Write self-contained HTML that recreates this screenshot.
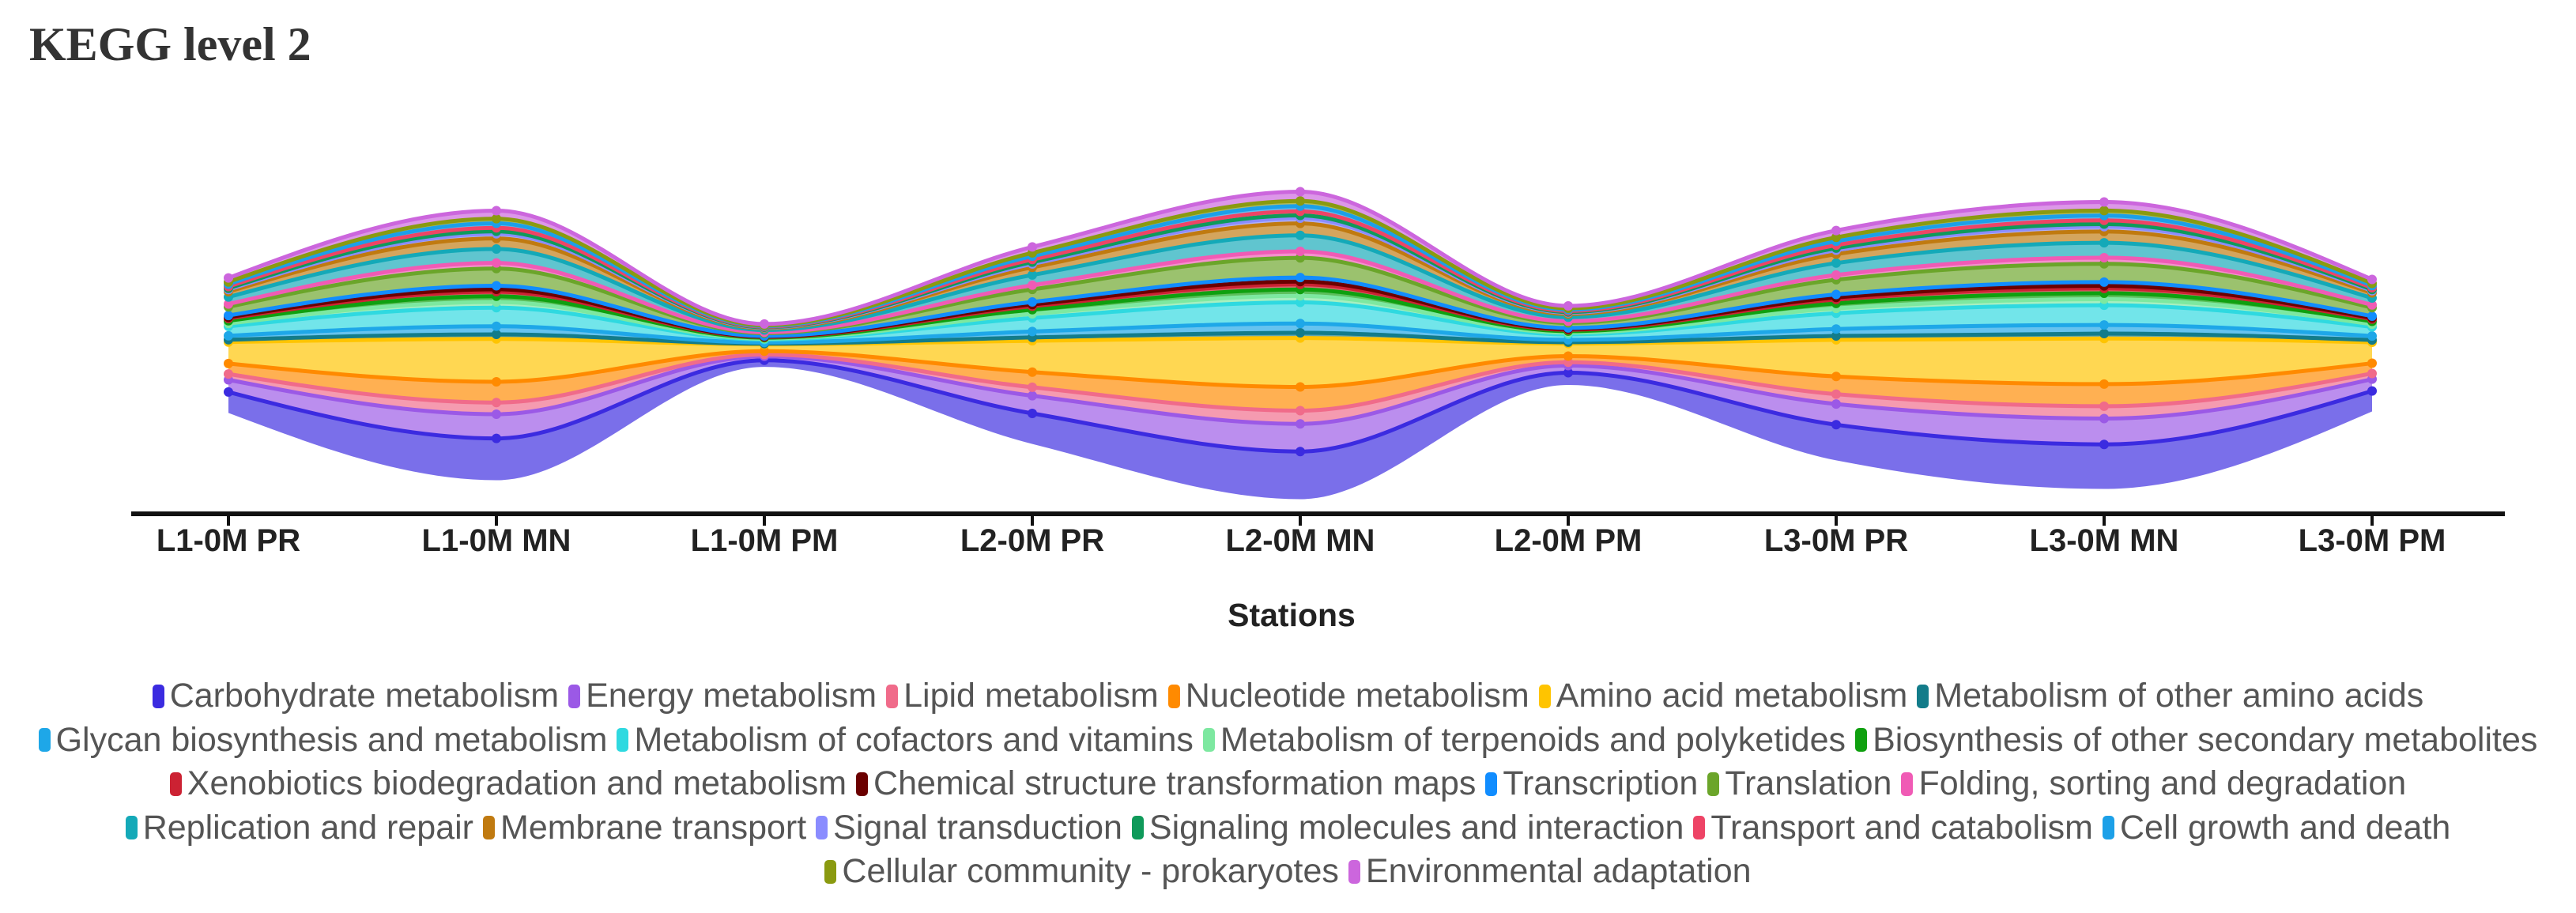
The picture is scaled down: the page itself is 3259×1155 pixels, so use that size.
<!DOCTYPE html>
<html><head><meta charset="utf-8">
<style>
html,body{margin:0;padding:0;background:#fff;}
body{width:3259px;height:1155px;overflow:hidden;position:relative;font-family:"Liberation Sans",sans-serif;}
#title{position:absolute;left:37px;top:22px;font-family:"Liberation Serif",serif;font-size:60px;color:#333;font-weight:bold;}
#legend{position:absolute;left:0;top:853px;width:3259px;}
.row{display:flex;justify-content:center;align-items:center;height:55.5px;}
.item{display:flex;align-items:center;margin:0 6px;font-size:43px;color:#555;white-space:nowrap;}
.sw{width:15px;height:30px;border-radius:5px;margin-right:7px;}
</style></head>
<body>
<div id="title">KEGG level 2</div>
<svg id="chart" width="3259" height="840" style="position:absolute;left:0;top:0"></svg>
<div id="legend"></div>
<script>
const stations = ["L1-0M PR","L1-0M MN","L1-0M PM","L2-0M PR","L2-0M MN","L2-0M PM","L3-0M PR","L3-0M MN","L3-0M PM"];
const seriesNames = ["Carbohydrate metabolism","Energy metabolism","Lipid metabolism","Nucleotide metabolism","Amino acid metabolism","Metabolism of other amino acids","Glycan biosynthesis and metabolism","Metabolism of cofactors and vitamins","Metabolism of terpenoids and polyketides","Biosynthesis of other secondary metabolites","Xenobiotics biodegradation and metabolism","Chemical structure transformation maps","Transcription","Translation","Folding, sorting and degradation","Replication and repair","Membrane transport","Signal transduction","Signaling molecules and interaction","Transport and catabolism","Cell growth and death","Cellular community - prokaryotes","Environmental adaptation"];
const seriesColors = ["#3b2be0","#9b59e6","#f06b8a","#ff8a00","#ffc400","#137c8a","#1ea7e8","#2fd9e0","#7de8a0","#0fa00f","#cc2233","#6b0000","#118dff","#6ba52a","#f05bb5","#14a9b8","#c07a10","#8a8cff","#0f9a5a","#ee4466","#1ca0e8","#8a9a10","#cc66dd"];
const vCarb   = [26.5,52.9,8.4,38.6,60.3,15.5,45.1,56.3,25.9];
const vEnergy = [15.4,30.7,4.9,22.4,35.0,9.0,26.2,32.7,15.0];
const vLipid  = [7.4,14.7,2.3,10.7,16.7,4.3,12.5,15.6,7.2];
const vNucl   = [13.2,26.3,4.2,19.2,30.0,7.7,22.4,28.0,12.9];
const vAmino  = [27.2,54.2,8.6,39.6,61.9,15.9,46.3,57.7,26.6];
const vOther  = [2.9,5.8,0.9,4.2,6.6,1.7,4.9,6.2,2.8];
const vGlycan = [5.1,10.2,1.6,7.5,11.7,3.0,8.7,10.9,5.0];
const vCofac  = [11.8,23.5,3.7,17.2,26.8,6.9,20.1,25.0,11.5];
const vTerp   = [3.6,7.2,1.1,5.2,8.2,2.1,6.1,7.6,3.5];
const vBiosyn = [3.5,7.3,1.2,5.3,8.1,2.0,6.2,7.5,3.6];
const vXeno   = [3.0,5.7,1.0,4.3,6.5,1.8,5.0,6.1,2.9];
const vChem   = [1.5,3.1,0.5,2.2,3.5,0.9,2.6,3.3,1.5];
const vTransc = [2.2,4.4,0.7,3.2,5.1,1.3,3.8,4.7,2.2];
const vTransl = [10.9,21.8,3.5,15.9,24.9,6.4,18.6,23.2,10.7];
const vFold   = [3.6,7.1,1.2,5.3,8.2,2.1,6.0,7.7,3.5];
const vRepl   = [8.9,17.7,2.8,12.9,20.2,5.2,15.1,18.9,8.7];
const vMemb   = [6.7,13.3,2.1,9.7,15.2,3.9,11.3,14.2,6.5];
const vSignal = [2.8,5.9,0.9,4.3,6.6,1.7,5.0,6.2,2.8];
const vSigmol = [1.5,3.1,0.5,2.3,3.5,0.9,2.6,3.2,1.5];
const vTransp = [2.2,4.4,0.7,3.3,5.1,1.3,3.8,4.7,2.2];
const vCell   = [2.9,5.8,0.9,4.2,6.6,1.7,4.9,6.2,2.8];
const vComm   = [2.9,5.8,0.9,4.2,6.6,1.7,4.9,6.2,2.8];
const vEnv    = [5.1,10.2,1.6,7.5,11.7,3.0,8.7,10.9,5.0];
const seriesValues = [vCarb,vEnergy,vLipid,vNucl,vAmino,vOther,vGlycan,vCofac,vTerp,vBiosyn,vXeno,vChem,vTransc,vTransl,vFold,vRepl,vMemb,vSignal,vSigmol,vTransp,vCell,vComm,vEnv];

const NS="http://www.w3.org/2000/svg";
const svg=document.getElementById('chart');
const xStart=289, xStep=339;
function xScale(i){return xStart+i*xStep;}
const yCenter=437, yUnit=1.0;
function yScale(v){return yCenter - v*yUnit;}

const n=stations.length;
const totals=stations.map((s,j)=>seriesValues.reduce((a,v)=>a+v[j],0));
const layers=[];
let base=totals.map(t=>-t/2);
seriesValues.forEach(vals=>{
  const lo=base.slice();
  const hi=base.map((b,j)=>b+vals[j]);
  layers.push({lo,hi});
  base=hi;
});

function tangents(xs,ys){
  const m=xs.length,t=new Array(m).fill(0);
  for(let i=1;i<m-1;i++){
    const h0=xs[i]-xs[i-1],h1=xs[i+1]-xs[i];
    const s0=(ys[i]-ys[i-1])/h0,s1=(ys[i+1]-ys[i])/h1;
    const p=(s0*h1+s1*h0)/(h0+h1);
    t[i]=(Math.sign(s0)+Math.sign(s1))*Math.min(Math.abs(s0),Math.abs(s1),0.5*Math.abs(p))||0;
  }
  const h=xs[1]-xs[0];
  t[0]=(3*(ys[1]-ys[0])/h - t[1])/2;
  const hl=xs[m-1]-xs[m-2];
  t[m-1]=(3*(ys[m-1]-ys[m-2])/hl - t[m-2])/2;
  return t;
}
function segs(xs,ys){
  const t=tangents(xs,ys),out=[];
  for(let i=0;i<xs.length-1;i++){
    const dx=(xs[i+1]-xs[i])/3;
    out.push([xs[i],ys[i],xs[i]+dx,ys[i]+dx*t[i],xs[i+1]-dx,ys[i+1]-dx*t[i+1],xs[i+1],ys[i+1]]);
  }
  return out;
}
function fwd(s){let d=`M${s[0][0]},${s[0][1]}`;s.forEach(g=>{d+=` C${g[2]},${g[3]} ${g[4]},${g[5]} ${g[6]},${g[7]}`;});return d;}
function back(s){let d='';for(let i=s.length-1;i>=0;i--){const g=s[i];d+=` C${g[4]},${g[5]} ${g[2]},${g[3]} ${g[0]},${g[1]}`;}return d;}

const xs=stations.map((s,i)=>xScale(i));
layers.forEach((L,k)=>{
  const top=segs(xs,L.hi.map(yScale));
  const bot=segs(xs,L.lo.map(yScale));
  const area=document.createElementNS(NS,'path');
  area.setAttribute('d',fwd(top)+` L${xs[n-1]},${yScale(L.lo[n-1])}`+back(bot)+' Z');
  area.setAttribute('fill',seriesColors[k]);
  area.setAttribute('fill-opacity','0.68');
  
  
  svg.appendChild(area);
});
layers.forEach((L,k)=>{
  const top=segs(xs,L.hi.map(yScale));
  const line=document.createElementNS(NS,'path');
  line.setAttribute('d',fwd(top));
  line.setAttribute('fill','none');
  line.setAttribute('stroke',seriesColors[k]);
  line.setAttribute('stroke-width','5');
  
  
  svg.appendChild(line);
  L.hi.forEach((v,j)=>{
    const c=document.createElementNS(NS,'circle');
    c.setAttribute('cx',xScale(j));c.setAttribute('cy',yScale(v));c.setAttribute('r','6');
    c.setAttribute('fill',seriesColors[k]);
    
    
    svg.appendChild(c);
  });
});
const ax=document.createElementNS(NS,'line');
ax.setAttribute('x1',166);ax.setAttribute('x2',3169);ax.setAttribute('y1',650);ax.setAttribute('y2',650);
ax.setAttribute('stroke','#111');ax.setAttribute('stroke-width','6');


svg.appendChild(ax);
stations.forEach((s,i)=>{
  const tk=document.createElementNS(NS,'line');
  tk.setAttribute('x1',xScale(i));tk.setAttribute('x2',xScale(i));tk.setAttribute('y1',650);tk.setAttribute('y2',665);
  tk.setAttribute('stroke','#111');tk.setAttribute('stroke-width','4');
  
  
  svg.appendChild(tk);
  const tx=document.createElementNS(NS,'text');
  tx.setAttribute('x',xScale(i));tx.setAttribute('y',697);tx.setAttribute('text-anchor','middle');
  tx.setAttribute('font-family','Liberation Sans, sans-serif');tx.setAttribute('font-size','40');tx.setAttribute('font-weight','bold');tx.setAttribute('fill','#222');
  tx.textContent=s;
  
  
  svg.appendChild(tx);
});
const at=document.createElementNS(NS,'text');
at.setAttribute('x',1634);at.setAttribute('y',792);at.setAttribute('text-anchor','middle');
at.setAttribute('font-family','Liberation Sans, sans-serif');at.setAttribute('font-size','41');at.setAttribute('font-weight','bold');at.setAttribute('fill','#222');
at.textContent='Stations';


svg.appendChild(at);

const rows=[[0,1,2,3,4,5],[6,7,8,9],[10,11,12,13,14],[15,16,17,18,19,20],[21,22]];
const lg=document.getElementById('legend');
rows.forEach(r=>{
  const row=document.createElement('div');row.className='row';
  
  
  r.forEach(k=>{
    const it=document.createElement('div');it.className='item';
    
    
    const sw=document.createElement('div');sw.className='sw';sw.style.background=seriesColors[k];
    
    
    const lb=document.createElement('span');lb.textContent=seriesNames[k];
    
    
    it.appendChild(sw);it.appendChild(lb);row.appendChild(it);
  });
  lg.appendChild(row);
});
</script>
</body></html>
